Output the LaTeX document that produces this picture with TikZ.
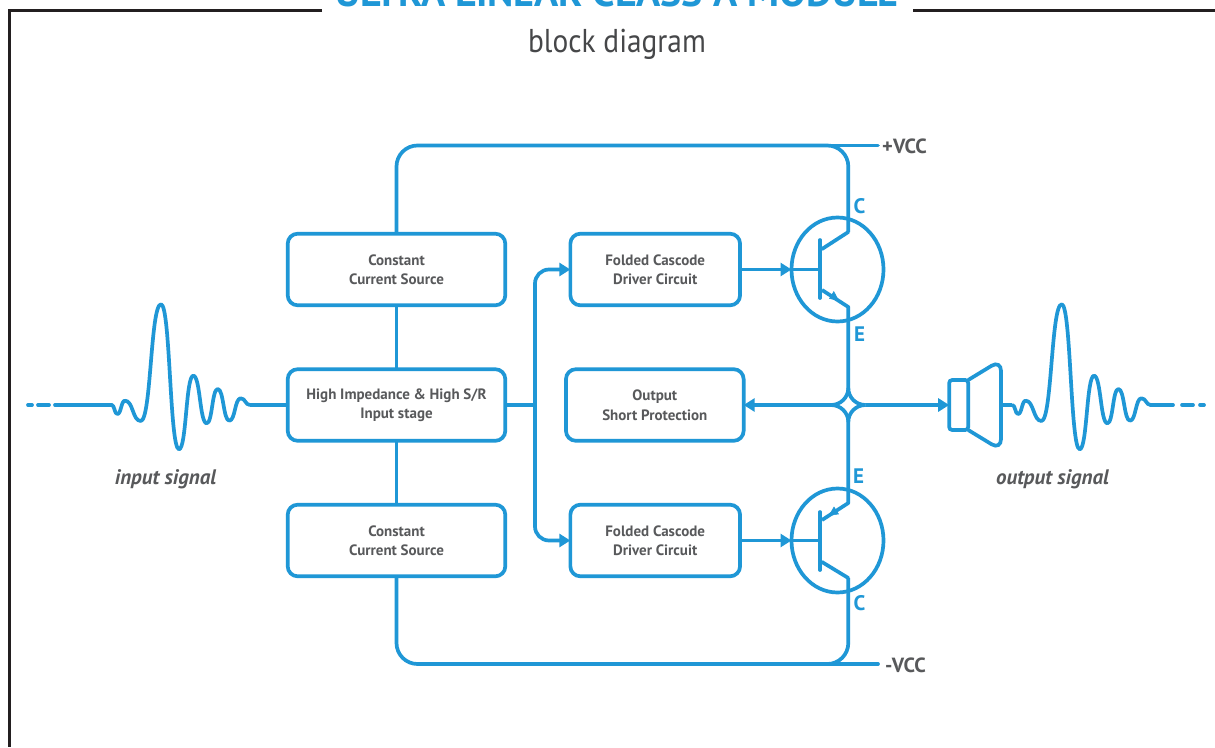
\documentclass[tikz,border=0pt]{standalone}
\usepackage{fontspec}
\setmainfont{PT Sans}
\newfontfamily\narrowfont[FakeStretch=0.89]{PT Sans}
\usetikzlibrary{arrows.meta,shapes.geometric,calc}
\definecolor{bl}{HTML}{1F97D6}
\definecolor{gy}{HTML}{58595B}
\definecolor{fr}{HTML}{231F20}
\tikzset{
 wire/.style={draw=bl,line width=3.7pt},
 head/.style={-{Triangle[length=11pt,width=13pt]}},
 box/.style={wire,rounded corners=10pt,minimum height=71.6pt,outer sep=0pt,inner sep=0pt,align=center,text=gy,font=\fontsize{15}{19.5}\selectfont\bfseries},
 big/.style={box,minimum width=217.6pt},
 fold/.style={box,minimum width=169.7pt},
 trans/.style={ellipse,wire,minimum width=92pt,minimum height=104pt,inner sep=0pt,outer sep=0pt},
 pin/.style={text=bl,font=\fontsize{21}{21}\selectfont\bfseries,inner sep=0pt},
 rail/.style={text=gy,font=\fontsize{20.5}{21}\selectfont\bfseries,inner sep=0pt},
 sig/.style={text=gy,font=\fontsize{21}{21}\selectfont\bfseries\itshape,inner sep=0pt},
 wave/.style={wire,line cap=round,line join=round},
}
\newcommand{\waveform}{%
 \foreach \xa/\ya/\xb/\yb in {111.7/405/117.3/414,117.3/414/125/400.7,125/400.7/140.7/421,140.7/421/161/304.3,161/304.3/179/449.3,179/449.3/193.3/375.7,193.3/375.7/206.7/423.3,206.7/423.3/217.7/389,217.7/389/229.3/420.7,229.3/420.7/240.7/398.3,240.7/398.3/250/405}
 {\draw[wave] (\xa,\ya) .. controls ({\xa+.52*(\xb-\xa)},\ya) and ({\xb-.52*(\xb-\xa)},\yb) .. (\xb,\yb);}%
}
\begin{document}
\begin{tikzpicture}[x=1pt,y=-1pt]
\useasboundingbox (0,0) rectangle (1215,747);
\clip (0,0) rectangle (1215,747);
\fill[white] (0,0) rectangle (1215,747);
% frame
\draw[fr,line width=2.5pt] (322,10.5) -- (9.5,10.5) -- (9.5,747);
\draw[fr,line width=2.5pt] (913,10.5) -- (1215,10.5);
% titles
\node[anchor=base,inner sep=0pt,text=bl,font=\fontsize{40}{40}\selectfont\bfseries] (title) at (617,6.5) {ULTRA LINEAR CLASS A MODULE};
\node[anchor=base,inner sep=0pt,text=gy!80!black,font=\fontsize{33}{33}\narrowfont\selectfont] (sub) at (617,52) {block diagram};
% boxes
\node[big] (c1) at (396.5,269.5) {Constant\\Current Source};
\node[big] (in) at (396.5,405) {High Impedance \& High S/R\\Input stage};
\node[big] (c2) at (396.5,540.5) {Constant\\Current Source};
\node[fold] (f1) at (655.2,269.5) {Folded Cascode\\Driver Circuit};
\node[fold] (f2) at (655.2,540.5) {Folded Cascode\\Driver Circuit};
\node[box,minimum width=177.7pt] (prot) at (654.8,405) {Output\\Short Protection};
% transistors
\node[trans] (q1) at (837.5,269.5) {};
\node[trans] (q2) at (837.5,540.5) {};
% key points
\coordinate (cT) at (848.3,232);
\coordinate (eT) at (848.3,307);
\coordinate (eB) at (848.3,503);
\coordinate (cB) at (848.3,578);
\coordinate (bT) at (820,269.5);
\coordinate (bB) at (820,540.5);
\coordinate (railT) at (848.3,145.5);
\coordinate (railB) at (848.3,664);
\coordinate (jn) at (848.3,388);
\coordinate (js) at (848.3,422);
\coordinate (jw) at (831,405);
\coordinate (je) at (865.6,405);
\coordinate (bus) at (535,405);
% rails
\draw[wire,rounded corners=21pt] (c1.north) |- (railT) -- (cT);
\draw[wire,rounded corners=21pt] (c2.south) |- (railB) -- (cB);
\coordinate (tTa) at (787,145.5); \coordinate (tTb) at (878,145.5);
\coordinate (tBa) at (787,664); \coordinate (tBb) at (878,664);
\draw[wire,line cap=round] (tTa) -- (tTb);
\draw[wire,line cap=round] (tBa) -- (tBb);
\node[rail,anchor=west] (vp) at (882,146) {+VCC};
\node[rail,anchor=west] (vm) at (885,665) {-VCC};
% stacks
\draw[wire] (c1.south) -- (in.north);
\draw[wire] (in.south) -- (c2.north);
% bus
\draw[wire] (in.east) -- (bus);
\draw[wire,head,rounded corners=14pt] (bus) |- (f1.west);
\draw[wire,head,rounded corners=14pt] (bus) |- (f2.west);
% base drive
\draw[wire,head] (f1.east) -- (q1.west);
\draw[wire,head] (f2.east) -- (q2.west);
\draw[wire] (q1.west) -- (bT);
\draw[wire] (q2.west) -- (bB);
% top transistor
\draw[wire,line cap=round] (820,240) -- (820,298);
\draw[wire,line cap=round,line join=round] (822,249) -- (cT);
\draw[wire,line join=round] (822,290) -- (eT) -- (jn);
\draw[draw=bl,fill=bl,line width=.5pt] (838.5,300.5) -- (829.5,298.5) -- (833.8,291.5) -- cycle;
% bottom transistor
\draw[wire,line cap=round] (820,512) -- (820,570);
\draw[wire,line cap=round,line join=round] (822,562) -- (cB);
\draw[wire,line join=round] (822,520) -- (eB) -- (js);
\draw[draw=bl,fill=bl,line width=.5pt] (829,515.5) -- (838.5,514) -- (834,507) -- cycle;
% junction
\draw[wire] (jn) .. controls (848.3,397.5) and (840.5,405) .. (jw);
\draw[wire] (jn) .. controls (848.3,397.5) and (856,405) .. (je);
\draw[wire] (js) .. controls (848.3,412.5) and (840.5,405) .. (jw);
\draw[wire] (js) .. controls (848.3,412.5) and (856,405) .. (je);
\draw[wire,head] (jw) -- (prot.east);
% speaker
\node[wire,minimum width=19pt,minimum height=50pt,rounded corners=3pt,inner sep=0pt,outer sep=0pt] (spk) at (958.7,405) {};
\draw[wire,head] (je) -- (spk.west);
\draw[wire,rounded corners=11pt] (spk.north east) -- (1001,360) -- (1001,450) -- (spk.south east);
\coordinate (cone) at (1001,405);
\coordinate (wo) at (1012.4,405);
\draw[wire] (cone) -- (wo);
% pin labels
\node[pin] (lc1) at (859.5,206) {C};
\node[pin] (le1) at (859.5,334) {E};
\node[pin] (le2) at (858.5,476) {E};
\node[pin] (lc2) at (859.5,603) {C};
% waveforms
\waveform
\coordinate (wi) at (111.7,405);
\coordinate (wiS) at (55,405);
\coordinate (wiE) at (250,405);
\draw[wave] (wiS) -- (wi);
\draw[wave] (38,405) -- (49,405);
\draw[wave] (28,405) -- (32,405);
\draw[wire] (wiE) -- (in.west);
\begin{scope}[xshift=900.7pt]
\waveform
\end{scope}
\coordinate (woE) at (1150.7,405);
\coordinate (woF) at (1173,405);
\draw[wave] (woE) -- (woF);
\draw[wave] (1182,405) -- (1193,405);
\draw[wave] (1200,405) -- (1204,405);
\node[sig] (li) at (165.5,479) {input signal};
\node[sig] (lo) at (1052.5,479) {output signal};
\end{tikzpicture}
\end{document}
